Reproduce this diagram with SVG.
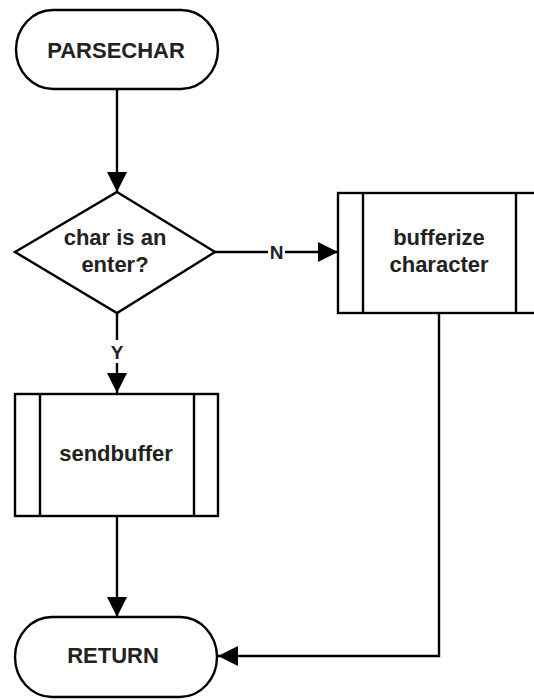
<svg xmlns="http://www.w3.org/2000/svg" width="534" height="700" viewBox="0 0 534 700">
  <defs>
    <marker id="arrow" viewBox="0 0 20 20" refX="20" refY="10" markerWidth="20" markerHeight="20" markerUnits="userSpaceOnUse" orient="auto">
      <path d="M0,0 L20,10 L0,20 Z" fill="#000"/>
    </marker>
  </defs>
  <style>
    .shape { fill: #fff; stroke: #000; stroke-width: 2.4; }
    .edge { fill: none; stroke: #000; stroke-width: 2.4; }
    .label { font-family: "Liberation Sans", Arial, sans-serif; font-weight: bold; font-size: 22px; fill: #222; text-anchor: middle; }
    .elabel { font-family: "Liberation Sans", Arial, sans-serif; font-weight: bold; font-size: 19px; fill: #222; text-anchor: middle; }
  </style>
  <rect width="534" height="700" fill="#fff"/>

  <g id="connectors">
    <path class="edge" d="M117,89 L117,192" marker-end="url(#arrow)"/>
    <path class="edge" d="M215,252 L338,252" marker-end="url(#arrow)"/>
    <path class="edge" d="M117,313 L117,393" marker-end="url(#arrow)"/>
    <path class="edge" d="M117,516 L117,617" marker-end="url(#arrow)"/>
    <path class="edge" d="M439,313 L439,656 L218,656" marker-end="url(#arrow)"/>
    <rect x="268" y="241" width="17" height="22" fill="#fff"/>
    <text class="elabel" x="276.5" y="259">N</text>
    <rect x="108" y="340" width="18" height="23" fill="#fff"/>
    <text class="elabel" x="117" y="358.5">Y</text>
  </g>

  <g id="parsechar">
    <rect class="shape" x="16" y="10" width="202" height="79" rx="37" ry="39.5"/>
    <text class="label" x="116" y="58">PARSECHAR</text>
  </g>

  <g id="decision">
    <polygon class="shape" points="117,192 215,252 117,313 15,252"/>
    <text class="label" x="115" y="245">char is an</text>
    <text class="label" x="115" y="272">enter?</text>
  </g>

  <g id="bufferize">
    <rect class="shape" x="338" y="193" width="204" height="120"/>
    <line class="edge" x1="363" y1="193" x2="363" y2="313"/>
    <line class="edge" x1="516" y1="193" x2="516" y2="313"/>
    <text class="label" x="439" y="245">bufferize</text>
    <text class="label" x="439" y="272">character</text>
  </g>

  <g id="sendbuffer">
    <rect class="shape" x="15" y="394" width="203" height="122"/>
    <line class="edge" x1="40" y1="394" x2="40" y2="516"/>
    <line class="edge" x1="194" y1="394" x2="194" y2="516"/>
    <text class="label" x="116" y="461">sendbuffer</text>
  </g>

  <g id="return">
    <rect class="shape" x="15" y="617" width="202" height="80" rx="37" ry="40"/>
    <text class="label" x="113" y="663">RETURN</text>
  </g>
</svg>
